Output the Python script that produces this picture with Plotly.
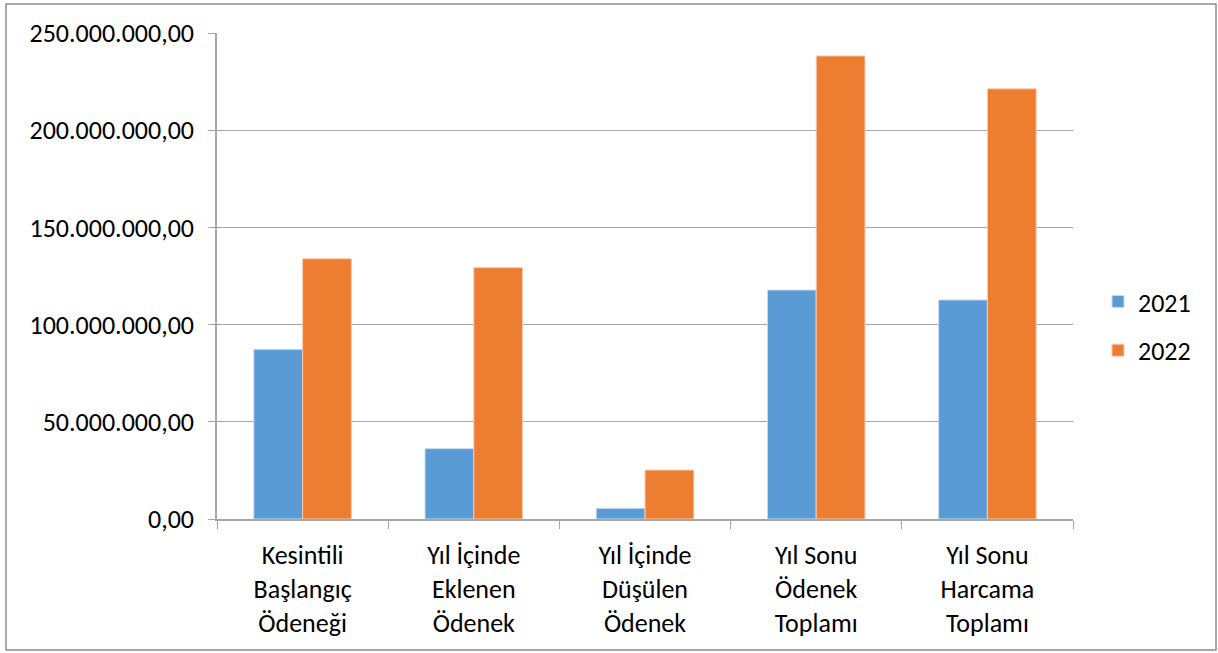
import plotly.graph_objects as go

categories = ["Kesintili<br>Başlangıç<br>Ödeneği", "Yıl İçinde<br>Eklenen<br>Ödenek",
              "Yıl İçinde<br>Düşülen<br>Ödenek", "Yıl Sonu<br>Ödenek<br>Toplamı",
              "Yıl Sonu<br>Harcama<br>Toplamı"]
values_2021 = [87300000, 36200000, 5500000, 117800000, 112700000]
values_2022 = [133900000, 129300000, 25200000, 238200000, 221300000]
y_ticks = [0, 50000000, 100000000, 150000000, 200000000, 250000000]

FONT = "Carlito, Lato, sans-serif"
FS = 26

fig = go.Figure()
fig.add_trace(go.Bar(name="2021", x=categories, y=values_2021,
                     marker=dict(color="#5B9BD5", line=dict(color="#C9DDF0", width=1)),
                     legendgroup="a"))
fig.add_trace(go.Bar(name="2022", x=categories, y=values_2022,
                     marker=dict(color="#ED7D31", line=dict(color="#F8CDB0", width=1)),
                     legendgroup="b"))

W, H = 1218, 653
L, R, T, B = 217, 145, 33, 134
pw, ph = W - L - R, H - T - B

def px(x):
    return (x - L) / pw

def py(y):
    return (H - B - y) / ph

fig.update_layout(
    width=W, height=H,
    margin=dict(l=L, r=R, t=T, b=B),
    paper_bgcolor="white", plot_bgcolor="white",
    barmode="group", bargap=0.43, bargroupgap=0,
    separators=",.",
    font=dict(family=FONT, size=FS, color="#000000"),
    showlegend=True,
    legend=dict(x=px(1098), y=py(278), xanchor="left", yanchor="top",
                font=dict(family=FONT, size=FS, color="#000000"),
                tracegroupgap=12, traceorder="grouped", bgcolor="rgba(0,0,0,0)"),
    shapes=[dict(type="rect", xref="paper", yref="paper",
                 x0=px(6), x1=px(1216), y0=py(650), y1=py(4),
                 line=dict(color="#8C8C8C", width=1.5), fillcolor="rgba(0,0,0,0)",
                 layer="below")],
)

fig.update_yaxes(range=[0, 250000000], tickvals=y_ticks, tickformat=",.2f",
                 showgrid=True, gridcolor="#A6A6A6", gridwidth=1,
                 showline=True, linecolor="#A6A6A6", linewidth=1.5,
                 ticks="outside", ticklen=7, tickcolor="#A6A6A6",
                 ticklabelstandoff=9, zeroline=False,
                 tickfont=dict(family=FONT, size=FS, color="#000000"))
fig.update_xaxes(showline=True, linecolor="#A6A6A6", linewidth=1.5,
                 ticks="outside", tickson="boundaries", ticklen=8, tickcolor="#A6A6A6",
                 ticklabelstandoff=12,
                 tickfont=dict(family=FONT, size=FS, color="#000000"))

fig.write_html("out.html", config={"displayModeBar": False},
               post_script="document.body.style.margin='0';document.body.style.overflow='hidden';")
